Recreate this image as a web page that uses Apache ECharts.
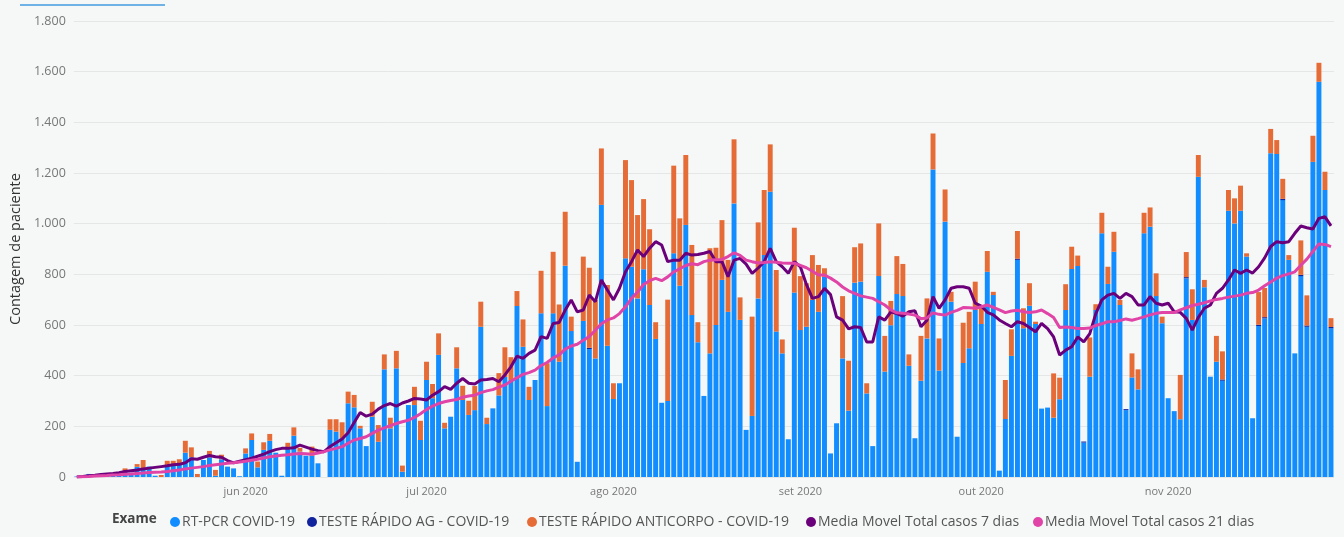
<!DOCTYPE html>
<html><head><meta charset="utf-8">
<script src="https://cdn.jsdelivr.net/npm/echarts@6/dist/echarts.min.js"></script>
<style>html,body{margin:0;padding:0;background:#f6f8f7}#c{width:1344px;height:537px}</style>
</head><body><div id="c"></div><script>
// first day of the series and number of days (May 4 2020 .. Nov 28 2020)
const startDay = '2020-05-04';
const dayCount = 209;
const monthNames = ['jan','fev','mar','abr','mai','jun','jul','ago','set','out','nov','dez'];
const yMin = 0, yMax = 1800, yStep = 200;
const seriesNames = ['RT-PCR COVID-19','TESTE RÁPIDO AG - COVID-19','TESTE RÁPIDO ANTICORPO - COVID-19','Media Movel Total casos 7 dias','Media Movel Total casos 21 dias'];

const rtpcr = [
2,3,12,5,6,8,10,12,21,17,
40,34,41,5,0,47,47,50,96,78,
0,67,78,5,70,41,34,3,93,146,
38,107,143,96,5,113,163,100,84,84,
54,0,186,179,153,291,275,192,122,238,
139,425,192,429,21,284,284,146,383,311,
482,192,238,429,304,245,264,593,209,271,
322,395,383,675,514,304,383,646,280,646,
455,834,576,60,616,505,468,1074,518,308,
370,863,830,705,820,679,545,293,300,883,
755,995,639,532,320,488,600,778,652,1080,
620,186,241,705,876,1126,574,488,149,728,
580,593,699,652,790,93,212,468,262,767,
771,330,122,793,416,599,722,714,439,153,
380,547,1214,420,1008,692,159,450,508,659,
604,810,718,25,229,478,857,587,676,604,
270,274,234,307,659,821,833,136,396,659,
962,762,889,679,264,393,346,962,988,714,
607,311,260,228,784,620,1185,749,396,455,
380,1051,1001,1051,870,232,596,626,1278,1275,
1093,857,488,793,593,1244,1560,1133,587];

const testeAg = [
0,0,0,0,0,0,0,0,0,0,
0,0,0,0,0,0,0,0,0,0,
0,0,0,0,0,0,0,0,0,0,
0,0,0,0,0,0,0,0,0,0,
0,0,0,0,0,0,0,0,0,0,
0,0,0,0,0,0,0,0,0,0,
0,0,0,0,0,0,0,0,0,0,
0,0,0,0,0,0,0,0,0,0,
0,0,0,0,0,5,0,0,0,0,
0,0,0,0,0,0,0,0,0,0,
0,0,0,0,0,0,0,0,0,0,
0,0,0,0,0,0,0,0,0,0,
0,0,0,0,0,0,0,0,0,0,
0,0,0,0,0,0,0,0,0,0,
0,0,0,0,0,0,0,0,0,0,
0,0,0,0,0,0,5,0,0,0,
0,0,0,0,0,0,0,4,0,0,
0,0,0,0,4,0,0,0,0,0,
0,0,0,0,5,0,0,0,0,0,
5,0,0,0,0,0,5,5,0,0,
5,0,0,5,5,0,0,0,5];

const anticorpo = [
0,0,0,0,0,0,0,0,13,0,
11,33,0,0,8,17,17,20,47,39,
12,0,25,23,18,0,0,0,20,26,
23,30,27,0,0,22,33,15,0,36,
0,0,42,49,63,46,49,10,0,59,
66,59,42,69,24,0,72,76,72,56,
85,22,0,83,56,56,95,99,25,0,
88,117,90,59,108,52,0,168,169,243,
226,213,57,0,254,316,231,223,240,62,
0,388,342,329,277,299,66,0,400,346,
266,276,277,79,0,415,305,236,205,253,
89,0,392,300,257,187,243,55,0,256,
213,172,177,185,34,0,0,246,197,140,
151,40,0,208,141,96,150,127,45,0,
177,158,142,127,127,39,0,159,144,112,
68,82,13,0,154,105,109,79,89,9,
0,0,175,85,102,88,41,0,155,23,
81,68,79,20,0,95,79,81,76,90,
26,0,0,175,99,121,86,29,0,102,
111,82,99,99,13,0,129,115,96,55,
79,19,0,136,119,103,75,72,35];

const media7 = [
0,2,5,7,10,12,14,17,22,25,
28,32,35,38,41,44,48,50,56,72,
70,78,85,80,78,65,56,62,68,74,
82,90,100,108,113,113,115,126,118,110,
104,100,120,135,150,175,215,255,240,248,
268,282,290,280,292,300,310,308,304,323,
337,357,346,370,389,370,367,383,385,389,
376,403,435,477,468,488,501,554,547,606,
610,659,699,652,659,718,692,778,738,699,
745,810,850,896,870,903,929,916,850,856,
856,883,876,878,883,890,850,850,791,856,
863,840,804,825,850,903,850,830,804,850,
830,760,705,712,745,720,632,619,585,593,
590,533,533,632,619,652,645,635,652,656,
593,619,712,666,699,745,751,751,745,686,
675,650,640,620,606,593,613,606,590,573,
606,586,553,481,501,514,553,533,566,645,
699,718,725,705,725,712,679,679,712,686,
679,686,652,650,626,580,630,666,679,725,
745,778,817,804,817,805,830,865,910,929,
925,929,962,991,984,979,1021,1027,991];

const media21 = [
0,1,2,4,5,6,8,9,11,12,
14,16,18,19,20,22,25,28,32,35,
38,41,45,48,51,54,56,59,62,66,
70,75,80,83,86,88,91,93,92,90,
95,100,107,113,120,133,146,152,159,172,
185,194,203,211,218,224,235,250,266,280,
290,297,302,306,315,320,323,333,340,345,
355,363,378,392,405,412,422,440,452,470,
482,505,517,524,540,555,579,605,620,628,
645,672,705,730,760,775,784,775,790,810,
822,835,842,838,850,856,858,859,870,885,
875,856,850,845,847,850,848,845,844,844,
835,826,812,797,797,785,770,750,735,725,
715,710,705,692,679,660,648,646,643,639,
625,628,648,642,639,650,658,669,668,666,
672,679,670,660,649,655,658,652,649,652,
659,645,630,590,592,590,586,586,588,598,
605,613,613,618,624,619,625,632,640,646,
649,649,649,660,668,677,682,688,695,701,
705,710,714,718,725,728,738,755,770,785,
795,802,810,836,860,890,920,918,909];

const categories = [];
{
  const s = new Date(startDay + 'T00:00:00Z');
  for (let i = 0; i < dayCount; i++) {
    const d = new Date(s.getTime() + i * 86400000);
    categories.push(d.toISOString().slice(0, 10));
  }
}

const FONT = '"Open Sans", "Noto Sans", sans-serif';
const fmtThousands = v => v >= 1000 ? Math.floor(v / 1000) + '.' + String(v % 1000).padStart(3, '0') : String(v);

// one legend block per item so each sits where the reference places it
const legendLefts = [165, 302, 522, 801, 1028];
const legends = seriesNames.map((n, k) => ({
  left: legendLefts[k], top: 510,
  icon: 'circle', itemWidth: 10, itemHeight: 10,
  textStyle: {fontSize: 14, color: '#555', fontFamily: FONT, padding: [0, 0, 0, -3]},
  data: [n]
}));

const chart = echarts.init(document.getElementById('c'), null, {renderer: 'canvas'});
chart.setOption({
  backgroundColor: '#f6f8f7',
  animation: false,
  textStyle: {fontFamily: FONT},
  grid: {left: 73, right: 10, top: 21, bottom: 60},
  graphic: [
    {type: 'line', shape: {x1: 20, y1: 5, x2: 165, y2: 5}, style: {stroke: '#6fb3e6', lineWidth: 2}},
    {type: 'text', left: 112, top: 512, style: {text: 'Exame', font: 'bold 13.5px ' + FONT, fill: '#444'}}
  ],
  legend: legends,
  xAxis: {
    type: 'category', data: categories, boundaryGap: true,
    axisLine: {show: false}, axisTick: {show: false},
    axisLabel: {
      interval: (idx, val) => val.endsWith('-01'),
      formatter: val => {
        const p = val.split('-');
        return monthNames[parseInt(p[1], 10) - 1] + ' ' + p[0];
      },
      color: '#777', fontSize: 11, margin: 9, fontFamily: FONT
    }
  },
  yAxis: {
    type: 'value', min: yMin, max: yMax, interval: yStep,
    name: 'Contagem de paciente', nameLocation: 'middle', nameGap: 48, nameRotate: 90,
    nameTextStyle: {fontSize: 14.5, color: '#333', fontFamily: FONT},
    axisLabel: {formatter: fmtThousands, color: '#777', fontSize: 12.5, margin: 8, fontFamily: FONT},
    splitLine: {lineStyle: {color: '#e4e7e6', width: 1}},
    axisLine: {show: false}, axisTick: {show: false}
  },
  series: [
    {name: seriesNames[0], type: 'bar', stack: 'exame', data: rtpcr, itemStyle: {color: '#118DFF'}, barCategoryGap: '18%'},
    {name: seriesNames[1], type: 'bar', stack: 'exame', data: testeAg, itemStyle: {color: '#12239E'}},
    {name: seriesNames[2], type: 'bar', stack: 'exame', data: anticorpo, itemStyle: {color: '#E66C37'}},
    {name: seriesNames[3], type: 'line', data: media7, showSymbol: false, symbol: 'circle', z: 5,
      itemStyle: {color: '#6B007B'}, lineStyle: {color: '#6B007B', width: 3}},
    {name: seriesNames[4], type: 'line', data: media21, showSymbol: false, symbol: 'circle', z: 5,
      itemStyle: {color: '#E044A7'}, lineStyle: {color: '#E044A7', width: 3}}
  ]
});
</script></body></html>
